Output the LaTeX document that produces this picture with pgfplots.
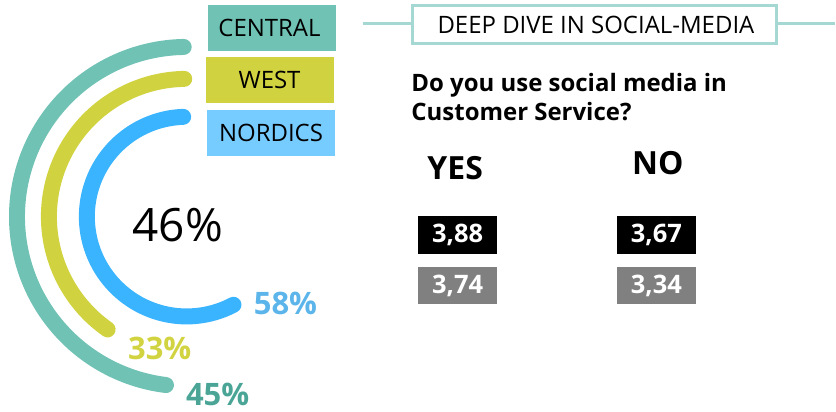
\documentclass[border=0pt]{standalone}
\usepackage{pgfplots}
\pgfplotsset{compat=1.18}
\usepackage{fontspec}
\setmainfont{Open Sans}
\definecolor{central}{HTML}{70C2B4}
\definecolor{west}{HTML}{D1D240}
\definecolor{nordics}{HTML}{3AB4FF}
\definecolor{nordicsbox}{HTML}{77CCFF}
\definecolor{frame}{HTML}{A5D8D3}
\definecolor{centraltxt}{HTML}{4BA596}
\definecolor{nordicstxt}{HTML}{5BB5EA}
\definecolor{westtxt}{HTML}{D2D340}
\newcommand{\fs}[1]{\fontsize{#1}{#1}\selectfont}
\begin{document}
\begin{tikzpicture}
\begin{axis}[
    x=1pt, y=1pt, y dir=reverse,
    xmin=0, xmax=836, ymin=0, ymax=412,
    hide axis, clip=false,
]
\path (axis cs:0,0) rectangle (axis cs:836,412);

% arcs: centre (187,217), radius, start and end angle
\addplot[central, line width=16pt, line cap=round, domain=91:263, samples=120, variable=\t]
    ({187+170*cos(\t)}, {217-170*sin(\t)});
\addplot[west, line width=16pt, line cap=round, domain=91:235, samples=100, variable=\t]
    ({187+138*cos(\t)}, {217-138*sin(\t)});
\addplot[nordics, line width=16pt, line cap=round, domain=92:298, samples=100, variable=\t]
    ({187+100*cos(\t)}, {217-100*sin(\t)});

% values
\node[font=\fs{46}] at (axis cs:178,226) {46\%};
\node[font=\fs{31}\bfseries, text=nordicstxt] at (axis cs:286,304) {58\%};
\node[font=\fs{31}\bfseries, text=westtxt] at (axis cs:160,349) {33\%};
\node[font=\fs{31}\bfseries, text=centraltxt, inner sep=0pt] at (axis cs:218,395) {45\%};

% legend boxes
\fill[central] (axis cs:208,5) rectangle (axis cs:337,51);
\node[font=\fs{24}] at (axis cs:270,28) {CENTRAL};
\fill[west] (axis cs:206,57) rectangle (axis cs:335,103);
\node[font=\fs{24}] at (axis cs:270,80) {WEST};
\fill[nordicsbox] (axis cs:207,110) rectangle (axis cs:336,156);
\node[font=\fs{24}] at (axis cs:271.5,133) {NORDICS};

% header
\draw[frame, line width=3pt] (axis cs:364,24) -- (axis cs:413,24);
\draw[frame, line width=3pt] (axis cs:778,24) -- (axis cs:836,24);
\draw[frame, line width=3pt] (axis cs:413.5,5.5) rectangle (axis cs:777.5,43.5);
\node[font=\fs{24}] at (axis cs:597,25) {DEEP DIVE IN SOCIAL-MEDIA};

\node[font=\fs{24}\bfseries, anchor=base west, inner sep=0pt] at (axis cs:412,92) {Do you use social media in};
\node[font=\fs{24}\bfseries, anchor=base west, inner sep=0pt] at (axis cs:412,121) {Customer Service?};

\node[font=\fs{32}\bfseries, anchor=base west, inner sep=0pt] at (axis cs:428,180) {YES};
\node[font=\fs{32}\bfseries, anchor=base west, inner sep=0pt] at (axis cs:633,175) {NO};

% scores
\node[fill=black, text=white, font=\fs{25.5}\bfseries, minimum width=79pt, minimum height=38pt, inner sep=0pt] at (axis cs:458.5,235) {3,88};
\node[fill=gray, text=white, font=\fs{25.5}\bfseries, minimum width=79pt, minimum height=38pt, inner sep=0pt] at (axis cs:458.5,286) {3,74};
\node[fill=black, text=white, font=\fs{25.5}\bfseries, minimum width=79pt, minimum height=38pt, inner sep=0pt] at (axis cs:657.5,235) {3,67};
\node[fill=gray, text=white, font=\fs{25.5}\bfseries, minimum width=79pt, minimum height=38pt, inner sep=0pt] at (axis cs:657.5,286) {3,34};
\end{axis}
\end{tikzpicture}
\end{document}
